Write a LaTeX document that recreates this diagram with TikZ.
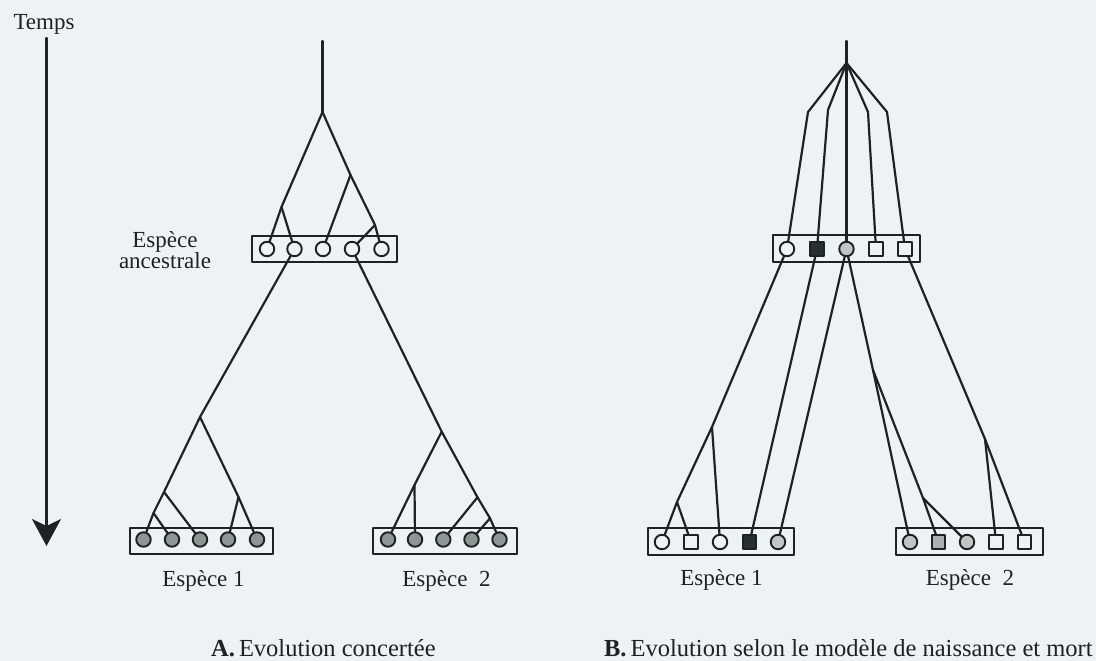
\documentclass[tikz,border=0pt]{standalone}
\usepackage{fontspec}
\setmainfont{Liberation Serif}
\usetikzlibrary{arrows.meta}
\definecolor{bg}{HTML}{EDF2F5}
\definecolor{ink}{HTML}{1E2222}
\definecolor{grayA}{HTML}{8E9595}
\definecolor{grayB}{HTML}{C2C5C5}
\definecolor{graySq}{HTML}{ACAFAF}
\definecolor{darkSq}{HTML}{26302E}
\begin{document}
\begin{tikzpicture}[x=1pt,y=-1pt,
  line width=2.2pt, line cap=round, line join=round, draw=ink,
  lbl/.style={font=\fontsize{23}{27}\selectfont, inner sep=0, anchor=base, text=ink},
  captxt/.style={font=\fontsize{24.5}{29}\selectfont, inner sep=0, anchor=base west, text=ink},
  genebox/.style={draw=ink, line width=2pt, minimum height=26pt, inner sep=0, fill=bg},
  gc/.style={draw=ink, line width=1.9pt, circle, minimum size=14.5pt, inner sep=0, fill=#1},
  gs/.style={draw=ink, line width=1.9pt, rectangle, minimum size=13.5pt, inner sep=0, fill=#1},
  br/.style={draw=ink, line width=2.2pt}
]
\fill[bg] (0,0) rectangle (1096,661);
\useasboundingbox (0,0) rectangle (1096,661);

% time axis
\node[lbl] (temps) at (44,30) {Temps};
\coordinate (tTop) at (46.5,38);
\coordinate (tBot) at (46.5,546);
\draw[br, -{Stealth[length=27pt,width=29pt,inset=7pt]}, draw=ink, fill=darkSq] (tTop) -- (tBot);

% ================= A =================
\node[lbl, align=center, anchor=center] (ancLbl) at (165,250) {Espèce\\[-6pt]ancestrale};
\node[genebox, minimum width=145pt] (boxA0) at (324.5,249) {};
\node[genebox, minimum width=143pt] (boxA1) at (201.5,540.5) {};
\node[genebox, minimum width=144pt] (boxA2) at (444.7,540.5) {};

\foreach \i/\x in {1/267,2/294.5,3/323,4/352,5/381.5}
  \node[gc=bg] (ac\i) at (\x,249) {};
\foreach \i/\x in {1/143.5,2/172,3/200,4/228,5/257}
  \node[gc=grayA] (a1c\i) at (\x,539.5) {};
\foreach \i/\x in {1/388,2/415,3/443.3,4/471.5,5/499.5}
  \node[gc=grayA] (a2c\i) at (\x,539.5) {};

\coordinate (rA) at (322.5,41);
\coordinate (sA) at (322.5,112);
\coordinate (a1) at (281.5,207);
\coordinate (a2) at (350.5,175);
\coordinate (a3) at (375,225);
\draw[br] (rA) -- (sA);
\draw[br] (sA) -- (a1) -- (ac1);
\draw[br] (a1) -- (ac2);
\draw[br] (sA) -- (a2) -- (a3) -- (ac5);
\draw[br] (a2) -- (ac3);
\draw[br] (a3) -- (ac4);

% species 1 lineage
\coordinate (b1) at (200,417);
\coordinate (b2) at (164,492);
\coordinate (b3) at (153.5,513);
\coordinate (b4) at (238.5,497);
\draw[br] (ac2) -- (b1) -- (b2) -- (b3) -- (a1c1);
\draw[br] (b3) -- (a1c2);
\draw[br] (b2) -- (a1c3);
\draw[br] (b1) -- (b4) -- (a1c5);
\draw[br] (b4) -- (a1c4);

% species 2 lineage
\coordinate (e1) at (441.7,431.7);
\coordinate (e2) at (414.5,485);
\coordinate (e3) at (477.5,497.3);
\coordinate (e4) at (490,518.3);
\draw[br] (ac4) -- (e1) -- (e2) -- (a2c1);
\draw[br] (e2) -- (a2c2);
\draw[br] (e1) -- (e3) -- (e4) -- (a2c5);
\draw[br] (e3) -- (a2c3);
\draw[br] (e4) -- (a2c4);

\node[lbl] (sp1A) at (203.5,586) {Espèce 1};
\node[lbl] (sp2A) at (446.5,586) {Espèce\ \ 2};
\node[captxt] (capA) at (210,656) {\textbf{A.}\,Evolution concertée};

% ================= B =================
\node[genebox, minimum width=147pt, minimum height=27pt] (boxB0) at (846.5,248.5) {};
\node[genebox, minimum width=146pt, minimum height=27pt] (boxB1) at (721,541.5) {};
\node[genebox, minimum width=147pt, minimum height=27pt] (boxB2) at (969.5,541.5) {};

\node[gc=bg]     (bc1) at (787,249) {};
\node[gs=darkSq] (bc2) at (817,249) {};
\node[gc=grayB]  (bc3) at (846.5,249) {};
\node[gs=bg]     (bc4) at (876,249) {};
\node[gs=bg]     (bc5) at (905,249) {};

\node[gc=bg]     (b1c1) at (662,542) {};
\node[gs=bg]     (b1c2) at (691,542) {};
\node[gc=bg]     (b1c3) at (720,542) {};
\node[gs=darkSq] (b1c4) at (749.5,542) {};
\node[gc=grayB]  (b1c5) at (778,542) {};

\node[gc=grayB]  (b2c1) at (910,542) {};
\node[gs=graySq] (b2c2) at (938.5,542) {};
\node[gc=grayB]  (b2c3) at (967,542) {};
\node[gs=bg]     (b2c4) at (996,542) {};
\node[gs=bg]     (b2c5) at (1024.5,542) {};

\coordinate (rB) at (846.5,41);
\coordinate (sB) at (846.5,63);
\coordinate (g1) at (808,112);
\coordinate (g2) at (828,110);
\coordinate (g4) at (868,112);
\coordinate (g5) at (887,112);
\draw[br] (rB) -- (sB);
\draw[br] (sB) -- (g1) -- (bc1);
\draw[br] (sB) -- (g2) -- (bc2);
\draw[br] (sB) -- (bc3);
\draw[br] (sB) -- (g4) -- (bc4);
\draw[br] (sB) -- (g5) -- (bc5);

% species 1 (B)
\coordinate (h1) at (712,427);
\coordinate (h2) at (677,502);
\draw[br] (bc1) -- (h1) -- (h2) -- (b1c1);
\draw[br] (h2) -- (b1c2);
\draw[br] (h1) -- (b1c3);
\draw[br] (bc2) -- (b1c4);
\draw[br] (bc3) -- (b1c5);

% species 2 (B)
\coordinate (h3) at (873,370);
\coordinate (h4) at (923,498);
\coordinate (h5) at (985,439);
\draw[br] (bc3) -- (h3) -- (b2c1);
\draw[br] (h3) -- (h4) -- (b2c2);
\draw[br] (h4) -- (b2c3);
\draw[br] (bc5) -- (h5) -- (b2c4);
\draw[br] (h5) -- (b2c5);

\node[lbl] (sp1B) at (721.5,585) {Espèce 1};
\node[lbl] (sp2B) at (970,585) {Espèce\ \ 2};
\node[captxt] (capB) at (603,656) {\textbf{B.}\,Evolution selon le modèle de naissance et mort};
\end{tikzpicture}
\end{document}
